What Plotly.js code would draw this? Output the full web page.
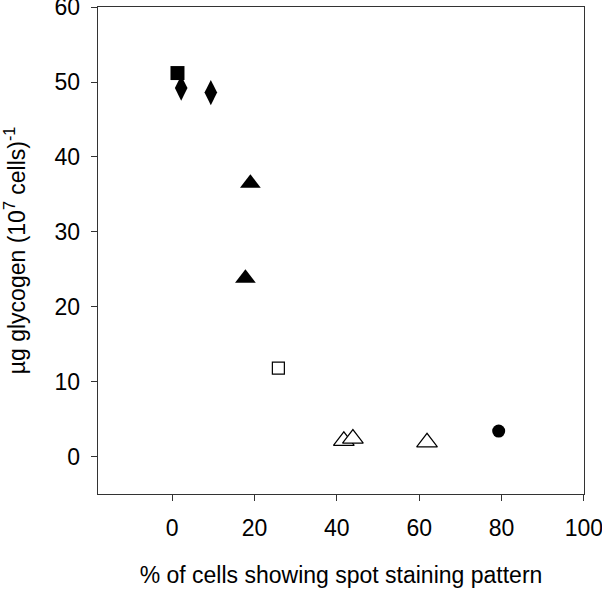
<!DOCTYPE html>
<html>
<head>
<meta charset="utf-8">
<script src="https://cdn.plot.ly/plotly-3.0.1.min.js"></script>
<style>html,body{margin:0;padding:0;background:#fff;}#chart{width:602px;height:589px;}</style>
</head>
<body>
<div id="chart"></div>
<script>
// Data
const sqFilledX = [1.3];
const sqFilledY = [51.2];
const diamondX = [2.2, 9.4];
const diamondY = [49.2, 48.6];
const triFilledX = [19.0, 17.8];
const triFilledY = [36.5, 23.8];
const sqOpenX = [25.8];
const sqOpenY = [11.8];
const triOpenX = [41.7, 43.9, 61.9];
const triOpenY = [2.1, 2.4, 1.9];
const circleX = [79.3];
const circleY = [3.4];
const xTicks = [0, 20, 40, 60, 80, 100];
const yTicks = [0, 10, 20, 30, 40, 50, 60];

const mk = (x, y, symbol, size, filled) => ({
  x: x, y: y, type: 'scatter', mode: 'markers', showlegend: false, hoverinfo: 'skip',
  cliponaxis: false,
  marker: {symbol: symbol, size: size, color: filled ? '#000' : '#fff',
           line: {color: '#000', width: filled ? 0 : 1.2}}
});

const data = [
  mk(sqFilledX, sqFilledY, 'square', 14, true),
  mk(diamondX, diamondY, 'diamond-tall', 18, true),
  mk(triFilledX, triFilledY, 'triangle-up', 18, true),
  mk(sqOpenX, sqOpenY, 'square', 12, false),
  mk(triOpenX, triOpenY, 'triangle-up', 18, false),
  mk(circleX, circleY, 'circle', 13, true)
];

const layout = {
  width: 602, height: 589,
  margin: {l: 98, r: 18, t: 7, b: 95},
  paper_bgcolor: '#fff', plot_bgcolor: '#fff',
  font: {family: 'Liberation Sans, Arial, sans-serif', color: '#000', size: 23},
  xaxis: {
    range: [-18, 100.02], tickvals: xTicks, ticktext: xTicks.map(String),
    showgrid: false, zeroline: false, showline: true, linecolor: '#333', linewidth: 1.4,
    mirror: true, ticks: 'outside', ticklen: 6, tickcolor: '#333', tickwidth: 1,
    tickfont: {size: 23}, ticklabelstandoff: 7, ticklabeloverflow: 'allow',
    title: {text: '% of cells showing spot staining pattern', font: {size: 23}, standoff: 27}
  },
  yaxis: {
    range: [-5, 60.02], tickvals: yTicks, ticktext: yTicks.map(String),
    showgrid: false, zeroline: false, showline: true, linecolor: '#333', linewidth: 1.4,
    mirror: true, ticks: 'outside', ticklen: 6, tickcolor: '#333', tickwidth: 1,
    tickfont: {size: 23}, ticklabelstandoff: 6, ticklabeloverflow: 'allow',
    title: {text: 'µg glycogen (10<sup>7</sup> cells)<sup>-1</sup>', font: {size: 23}, standoff: 22}
  }
};

Plotly.newPlot('chart', data, layout, {displayModeBar: false, staticPlot: true});
</script>
</body>
</html>
